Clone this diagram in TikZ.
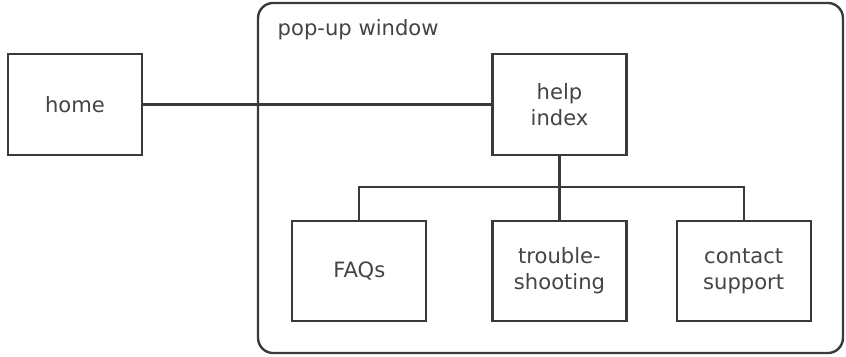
\documentclass[tikz,border=0pt]{standalone}
\usepackage{fontspec}
\setmainfont{DejaVu Sans}
\usetikzlibrary{positioning}
\definecolor{ink}{HTML}{3A3A3A}
\definecolor{label}{HTML}{444444}
\tikzstyle{block} = [draw, fill=white, rectangle, minimum width=3.35cm, minimum height=2.52cm, align=center, text=label]
\tikzstyle{frame} = [draw, rectangle, rounded corners=0.38cm, minimum width=14.62cm, minimum height=8.75cm, line width=1.7pt]

\begin{document}
\begin{tikzpicture}[x=0.025cm, y=-0.025cm, draw=ink, line width=1.5pt, font=\fontsize{15}{18.5}\selectfont]
    \useasboundingbox (0,0) rectangle (846,356);
    \node [frame] (popup) at (550.5,178) {};
    \node [anchor=west, text=label] (title) at (272,30) {pop-up window};
    \node [block] (home) at (75,104.5) {home};
    \node [block] (help) at (559.5,104.5) {help\\index};
    \node [block] (trouble) at (559.5,271) {trouble-\\shooting};
    \node [block, left=1.6cm of trouble] (faqs) {FAQs};
    \node [block, right=1.2cm of trouble] (contact) {contact\\support};
    \coordinate (fork) at (559.5,187);
    \draw (home) -- (help);
    \draw (help) -- (trouble);
    \draw (faqs.north) |- (fork) -| (contact.north);
\end{tikzpicture}
\end{document}
